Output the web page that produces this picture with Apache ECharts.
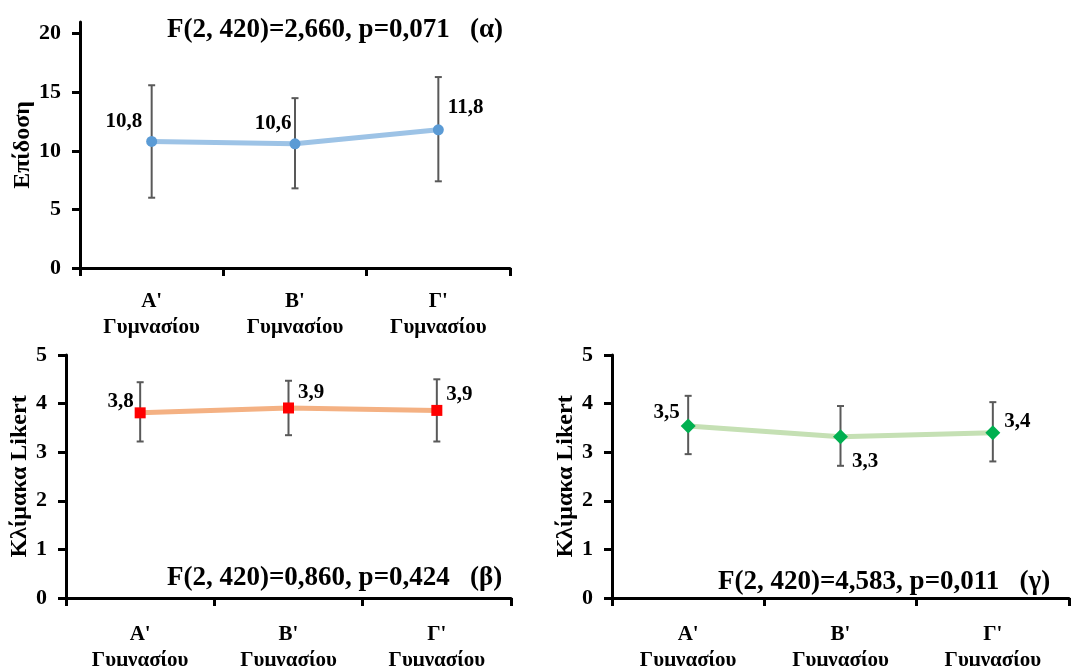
<!DOCTYPE html>
<html>
<head>
<meta charset="utf-8">
<script src="https://cdn.jsdelivr.net/npm/echarts@6/dist/echarts.min.js"></script>
<style>html,body{margin:0;padding:0;background:#fff}#c{width:1089px;height:666px}</style>
</head>
<body>
<div id="c"></div>
<script>
// ---- data ----
const categories = ["Α'\nΓυμνασίου", "Β'\nΓυμνασίου", "Γ'\nΓυμνασίου"];

const perfMean = [10.8, 10.6, 11.8];
const perfLow  = [6.0, 6.8, 7.4];
const perfHigh = [15.6, 14.5, 16.3];

const betaMean = [3.81, 3.91, 3.86];
const betaLow  = [3.22, 3.35, 3.22];
const betaHigh = [4.44, 4.47, 4.50];

const gammaMean = [3.54, 3.32, 3.40];
const gammaLow  = [2.96, 2.72, 2.81];
const gammaHigh = [4.16, 3.95, 4.03];

const perfTicks = [0, 5, 10, 15, 20];
const likertTicks = [0, 1, 2, 3, 4, 5];

const titleA = "F(2, 420)=2,660, p=0,071   (α)";
const titleB = "F(2, 420)=0,860, p=0,424   (β)";
const titleC = "F(2, 420)=4,583, p=0,011   (γ)";
const yNameA = "Επίδοση";
const yNameB = "Κλίμακα Likert";

// ---- styling ----
const FONT = "'Liberation Serif', 'Times New Roman', serif";
const labelPosA = [{position:'left', offset:[0,-20]}, {position:'left', offset:[6,-20]}, {position:'right', offset:[0,-22]}];
const labelPosB = [{position:'left', offset:[3,-11]}, {position:'right', offset:[0,-15]}, {position:'right', offset:[0,-16]}];
const labelPosC = [{position:'left', offset:[3,-13]}, {position:'right', offset:[0,25]}, {position:'right', offset:[0,-11]}];

const fmt = v => (Math.round(v * 10) / 10).toFixed(1).replace('.', ',');

function xAxisCfg(gi, margin) {
  return {
    type: 'category', gridIndex: gi, data: categories, boundaryGap: true,
    axisLine: {lineStyle: {color: '#000', width: 3}},
    axisTick: {show: true, alignWithLabel: false, length: 8, lineStyle: {color: '#000', width: 3}},
    axisLabel: {color: '#000', fontFamily: FONT, fontWeight: 'bold', fontSize: 21, lineHeight: 26, margin: margin},
    splitLine: {show: false}
  };
}
function yAxisCfg(gi, max, interval, name, gap, ticks) {
  return {
    type: 'value', gridIndex: gi, min: 0, max: max, interval: interval,
    name: name, nameLocation: 'middle', nameGap: gap, nameRotate: 90,
    nameTextStyle: {color: '#000', fontFamily: FONT, fontWeight: 'bold', fontSize: 24},
    axisLine: {show: true, lineStyle: {color: '#000', width: 3}},
    axisTick: {show: true, length: 8, lineStyle: {color: '#000', width: 3}, customValues: ticks},
    axisLabel: {color: '#000', fontFamily: FONT, fontWeight: 'bold', fontSize: 22, margin: 19, customValues: ticks},
    splitLine: {show: false}
  };
}
function lineSeries(gi, means, lpos, lineColor, symbol, symSize, symColor) {
  return {
    type: 'line', xAxisIndex: gi, yAxisIndex: gi, z: 3,
    data: means.map((v, i) => ({value: v, label: lpos[i]})),
    lineStyle: {color: lineColor, width: 5},
    symbol: symbol, symbolSize: symSize, showAllSymbol: true,
    itemStyle: {color: symColor, borderWidth: 0},
    label: {show: true, distance: 4, color: '#000', fontFamily: FONT, fontWeight: 'bold', fontSize: 21,
            formatter: p => fmt(p.value)},
    emphasis: {disabled: true}, animation: false
  };
}
function errSeries(gi, low, high) {
  return {
    type: 'custom', xAxisIndex: gi, yAxisIndex: gi, z: 2, animation: false,
    data: low.map((l, i) => [i, l, high[i]]),
    renderItem: function (params, api) {
      const x = api.value(0);
      const lo = api.coord([x, api.value(1)]);
      const hi = api.coord([x, api.value(2)]);
      const w = 3.5;
      const st = {stroke: '#595959', lineWidth: 2};
      return {type: 'group', children: [
        {type: 'line', shape: {x1: lo[0], y1: lo[1], x2: hi[0], y2: hi[1]}, style: st},
        {type: 'line', shape: {x1: lo[0]-w, y1: lo[1], x2: lo[0]+w, y2: lo[1]}, style: st},
        {type: 'line', shape: {x1: hi[0]-w, y1: hi[1], x2: hi[0]+w, y2: hi[1]}, style: st}
      ]};
    }
  };
}
function titleText(txt, x, y) {
  return {type: 'text', x: x, y: y, z: 10,
    style: {text: txt, fill: '#000', font: "bold 27px " + FONT, textVerticalAlign: 'middle'}};
}

const chart = echarts.init(document.getElementById('c'), null, {renderer: 'canvas'});
chart.setOption({
  animation: false,
  backgroundColor: '#fff',
  grid: [
    {left: 80, top: 22, width: 430, height: 246, outerBoundsMode: 'none', containLabel: false},
    {left: 66, top: 355, width: 445, height: 243, outerBoundsMode: 'none', containLabel: false},
    {left: 612, top: 355, width: 457, height: 243, outerBoundsMode: 'none', containLabel: false}
  ],
  xAxis: [xAxisCfg(0, 21), xAxisCfg(1, 24), xAxisCfg(2, 24)],
  yAxis: [
    yAxisCfg(0, 21, 5, yNameA, 44, perfTicks),
    yAxisCfg(1, 5, 1, yNameB, 32, likertTicks),
    yAxisCfg(2, 5, 1, yNameB, 34, likertTicks)
  ],
  series: [
    errSeries(0, perfLow, perfHigh),
    lineSeries(0, perfMean, labelPosA, '#9DC3E6', 'circle', 11, '#5B9BD5'),
    errSeries(1, betaLow, betaHigh),
    lineSeries(1, betaMean, labelPosB, '#F4B183', 'rect', 11, '#FF0000'),
    errSeries(2, gammaLow, gammaHigh),
    lineSeries(2, gammaMean, labelPosC, '#C5E0B4', 'diamond', 15, '#00B050')
  ],
  graphic: [
    titleText(titleA, 167, 30),
    titleText(titleB, 167, 578),
    titleText(titleC, 718, 582)
  ]
});
</script>
</body>
</html>
